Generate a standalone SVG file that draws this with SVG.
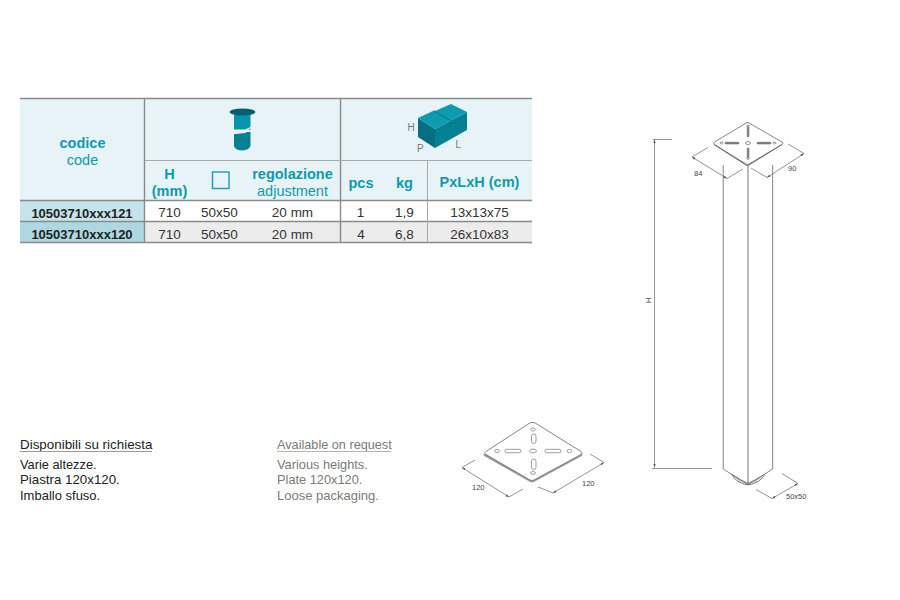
<svg xmlns="http://www.w3.org/2000/svg" width="900" height="600" viewBox="0 0 900 600">
<defs>
<style>
text{font-family:"Liberation Sans",Arial,sans-serif}
.m{text-anchor:middle}
.hb{font-size:14.5px;font-weight:bold;fill:#0e9aae}
.hr{font-size:14.5px;fill:#0e9aae}
.c{font-size:13.5px;fill:#333}
.cb{font-size:13px;font-weight:bold;fill:#222}
.g{stroke:#8a8a8a;stroke-width:1.4;fill:none}
.gl{stroke:#a9a9a9;stroke-width:1;fill:none}
.d{stroke:#666;stroke-width:.7;fill:none}
.dt{font-size:7.5px;fill:#444}
.l{stroke:#777;stroke-width:.9;fill:#fff}
.n{font-size:13px}
.k{fill:#222}
.y{fill:#7a7a7a}
</style>
<marker id="a" viewBox="0 0 6 6" refX="6" refY="3" markerWidth="5" markerHeight="5" orient="auto-start-reverse"><path d="M0 1L6 3L0 5Z" fill="#555"/></marker>
</defs>
<rect width="900" height="600" fill="#fff"/>
<g id="table">
<rect x="20" y="98" width="512" height="102" fill="#e7f3f6"/>
<rect x="20" y="200" width="124" height="21" fill="#c5e3ea"/>
<rect x="20" y="221" width="124" height="21" fill="#add8e2"/>
<rect x="145" y="221" width="387" height="21" fill="#ececec"/>
<path class="g" d="M20 98.5H532M20 200.5H532M20 221.5H532M20 242.5H532M144.500 98V242.500M340.500 98V242.500"/>
<path class="gl" d="M145 160.500H532M427.500 160.500V242"/>
<text class="m hb" x="82.500" y="148">codice</text>
<text class="m hr" x="82.500" y="165">code</text>
<text class="m hb" x="169.500" y="179">H</text>
<text class="m hb" x="169.500" y="196">(mm)</text>
<rect x="212.500" y="172" width="16.500" height="16.500" fill="none" stroke="#1d9db0" stroke-width="1.400"/>
<text class="m hb" x="292.500" y="179">regolazione</text>
<text class="m hr" x="292.500" y="196">adjustment</text>
<text class="m hb" x="361" y="188">pcs</text>
<text class="m hb" x="404.500" y="188">kg</text>
<text class="m hb" x="479.500" y="187">PxLxH (cm)</text>
<text class="m cb" x="82" y="217.500">10503710xxx121</text>
<text class="m cb" x="82" y="238.500">10503710xxx120</text>
<g>
<text class="m c" x="169.500" y="217">710</text><text class="m c" x="219.500" y="217">50x50</text><text class="m c" x="292.500" y="217">20 mm</text><text class="m c" x="360.500" y="217">1</text><text class="m c" x="404.500" y="217">1,9</text><text class="m c" x="479.500" y="217">13x13x75</text>
<text class="m c" x="169.500" y="239">710</text><text class="m c" x="219.500" y="239">50x50</text><text class="m c" x="292.500" y="239">20 mm</text><text class="m c" x="361" y="239">4</text><text class="m c" x="404.500" y="239">6,8</text><text class="m c" x="479.500" y="239">26x10x83</text>
</g>
</g>
<g id="icon-leg">
<path d="M234 114H250.500V130H234Z" fill="#0494ab"/>
<path d="M234 132H250.500V146Q249 150 242 150.500Q235 150 234 146Z" fill="#067f92"/>
<path d="M230.500 129.500L245 129.500L253.500 125.500L245.500 133L231 134.500Z" fill="#e7f3f6"/>
<ellipse cx="242.500" cy="112" rx="12.800" ry="3.500" fill="#045f6e"/>
</g>
<g id="icon-box">
<path d="M418 118L435 129V148L418 137Z" fill="#046f80"/>
<path d="M435 129L467 112V130L435 148Z" fill="#038092"/>
<path d="M418 118L434 110.500L435 111L451 104L467 112L435 129Z" fill="#0c9bb0"/>
<path d="M434 111L451 121" stroke="#046f80" stroke-width=".8" fill="none"/>
<text x="407.500" y="131" font-size="10" fill="#777">H</text>
<text x="417" y="151.500" font-size="10" fill="#777">P</text>
<text x="455.500" y="148" font-size="10" fill="#777">L</text>
</g>
<g id="notes-it">
<text class="n k" x="20" y="449" font-size="13.300" style="font-size:13.400px">Disponibili su richiesta</text>
<path d="M20 451.500H152" stroke="#9a9a9a" stroke-width="1"/>
<text class="n k" x="20" y="469" style="font-size:12.800px">Varie altezze.</text>
<text class="n k" x="20" y="484" style="font-size:13.300px">Piastra 120x120.</text>
<text class="n k" x="20" y="500">Imballo sfuso.</text>
</g>
<g id="notes-en">
<text class="n y" x="277" y="449" style="font-size:12.700px">Available on request</text>
<path d="M277 451.500H391" stroke="#b5b5b5" stroke-width="1"/>
<text class="n y" x="277" y="469" style="font-size:12.800px">Various heights.</text>
<text class="n y" x="277" y="484" style="font-size:12.800px">Plate 120x120.</text>
<text class="n y" x="277" y="500">Loose packaging.</text>
</g>
<g id="plate">
<path d="M484 454V455.500L530 481.500Q532 482.500 534 481.500L582 455.500V454" fill="#999" stroke="#888" stroke-width=".6"/>
<path class="l" d="M532 422.500Q534 422 536 423.500L581 451.500Q583 453 581 454.500L534 480Q532 481 530 480L486 454.500Q483 453 486 451.500L529 423.500Q530 422.500 532 422.500Z"/>
<g fill="#fff" stroke="#777" stroke-width=".7">
<rect x="505" y="449.300" width="16" height="3.400" rx="1.700"/>
<rect x="545" y="449.300" width="16" height="3.400" rx="1.700"/>
<rect x="531.500" y="434" width="4.500" height="9.500" rx="2.200"/>
<rect x="531.500" y="459" width="4.500" height="10.500" rx="2.200"/>
<ellipse cx="533" cy="451" rx="3.500" ry="2"/>
<ellipse cx="497" cy="451" rx="2.400" ry="1.600"/>
<ellipse cx="569.500" cy="451" rx="2.400" ry="1.600"/>
<ellipse cx="533" cy="429.500" rx="2.400" ry="1.500"/>
<ellipse cx="533" cy="473" rx="2.400" ry="1.500"/>
</g>
<path class="d" d="M462 467.500L509 497" marker-start="url(#a)" marker-end="url(#a)"/>
<path class="d" d="M462 467.500L475 460M509 497L523 489"/>
<path class="d" d="M553 493L604 462.500" marker-start="url(#a)" marker-end="url(#a)"/>
<path class="d" d="M553 493L538 487M604 462.500L590 454"/>
<text class="dt" x="472" y="490">120</text>
<text class="dt" x="582" y="486">120</text>
</g>
<g id="leg">
<path class="l" d="M723.200 165V469L748 484.500L772.700 469V165"/>
<path class="d" d="M748 164V484.500" style="stroke-width:.9"/>
<path d="M731.500 474Q736 483 748 485Q760 483 765 474" fill="none" stroke="#555" stroke-width=".8"/>
<path d="M733.500 475.500Q739 481.500 748 484M762.500 475.500Q757 481.500 748 484M735.500 476.500Q741 480.500 748 483M760.500 476.500Q755 480.500 748 483" fill="none" stroke="#777" stroke-width=".7"/>
<path class="l" d="M747 122.500Q748 122 749 123L782 142Q784 143 782 144.500L749 164Q747.500 165 746 164L714.500 144.500Q712.500 143 714.500 142Z"/>
<path d="M714 144.500L746 165Q747.500 165.800 749 165L782 144.500" fill="none" stroke="#666" stroke-width="1"/>
<g fill="#fff" stroke="#666" stroke-width=".7">
<rect x="725" y="142.300" width="14" height="1.600" rx=".8" fill="#888"/>
<rect x="757" y="142.300" width="14" height="1.600" rx=".8" fill="#888"/>
<rect x="747.300" y="127" width="1.600" height="10" rx=".8" fill="#888"/>
<rect x="747.300" y="148" width="1.600" height="10" rx=".8" fill="#888"/>
<ellipse cx="748" cy="143" rx="2.500" ry="1.500"/>
<ellipse cx="721.500" cy="143" rx="1.500" ry="1"/>
<ellipse cx="774.500" cy="143" rx="1.500" ry="1"/>
<ellipse cx="748" cy="126" rx="1.300" ry=".9"/>
<ellipse cx="748" cy="158.500" rx="1.300" ry=".9"/>
</g>
<path class="d" d="M654.500 139.500V467.500" marker-start="url(#a)" marker-end="url(#a)"/>
<path class="d" d="M653 139.500H672M652 468.500H712"/>
<text class="dt" transform="translate(650.500 303) rotate(-90)">H</text>
<path class="d" d="M692 157L727 178.500" marker-start="url(#a)" marker-end="url(#a)"/>
<path class="d" d="M692 157L708 147.500M727 178.500L743 169"/>
<path class="d" d="M767 177.500L804 153.500" marker-start="url(#a)" marker-end="url(#a)"/>
<path class="d" d="M767 177.500L751 168M804 153.500L788 144"/>
<text class="dt" x="694" y="175.500">84</text>
<text class="dt" x="788" y="171">90</text>
<path class="d" d="M772 498.500L798 483.500" marker-start="url(#a)" marker-end="url(#a)"/>
<path class="d" d="M772 498.500L756 489.500M798 483.500L782 473.500"/>
<text class="dt" x="786" y="499">50x50</text>
</g>
</svg>
